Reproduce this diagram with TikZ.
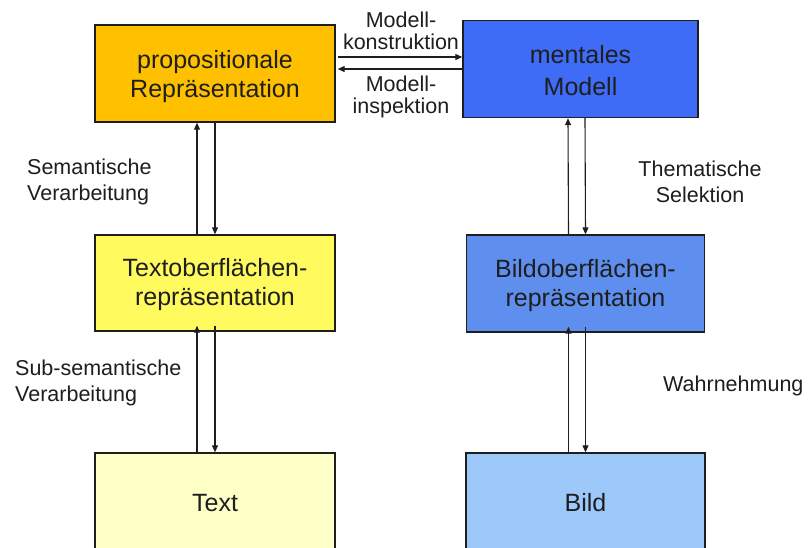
\documentclass[tikz,border=0pt]{standalone}
\usepackage{fontspec}
\setmainfont{Liberation Sans}
\usetikzlibrary{arrows.meta,calc}

\definecolor{propfill}{HTML}{FFC000}
\definecolor{mentalfill}{HTML}{3F6CF6}
\definecolor{txtsurffill}{HTML}{FFFA5E}
\definecolor{imgsurffill}{HTML}{5F8FEE}
\definecolor{txtfill}{HTML}{FFFFC8}
\definecolor{imgfill}{HTML}{9CC8FA}
\definecolor{inkcol}{HTML}{1E1E1E}

\tikzset{
  box/.style={draw=inkcol, line width=1.4pt, inner sep=0pt, align=center,
    text=inkcol, font=\fontsize{25}{29}\selectfont},
  lbl/.style={inner sep=0pt, text=inkcol, font=\fontsize{21.5}{26.5}\selectfont},
  tightlbl/.style={lbl, align=center, font=\fontsize{21.5}{21.5}\selectfont},
  flow/.style={draw=inkcol, line width=1.1pt,
    -{Triangle[length=7pt,width=6pt]}}
}

\begin{document}
\begin{tikzpicture}[x=1pt,y=-1pt]
  \clip (0,0) rectangle (808,547);
  \fill[white] (0,0) rectangle (808,547);

  % boxes
  \node[box, fill=propfill, minimum width=240pt, minimum height=97pt]
    (prop) at (215,73.5) {};
  \node[box, fill=mentalfill, minimum width=235pt, minimum height=97pt]
    (mental) at (580.5,69) {};
  \node[box, fill=txtsurffill, minimum width=240pt, minimum height=96pt]
    (txtsurf) at (215,283) {};
  \node[box, fill=imgsurffill, minimum width=238pt, minimum height=97pt]
    (imgsurf) at (585.5,283.5) {};
  \node[box, fill=txtfill, minimum width=240pt, minimum height=100pt]
    (txt) at (215,503) {};
  \node[box, fill=imgfill, minimum width=239pt, minimum height=100pt]
    (img) at (585.5,503) {};

  % box captions
  \node[box, draw=none] (propt) at ([yshift=-3pt]prop.center) {propositionale\\Repräsentation};
  \node[box, draw=none, font=\fontsize{25}{32}\selectfont] (mentalt) at ([yshift=-2pt]mental.center) {mentales\\Modell};
  \node[box, draw=none] (txtsurft) at ([yshift=-2pt]txtsurf.center) {Textoberflächen-\\repräsentation};
  \node[box, draw=none] (imgsurft) at ([yshift=-2pt]imgsurf.center) {Bildoberflächen-\\repräsentation};
  \node[box, draw=none] (txtt) at (txt.center) {Text};
  \node[box, draw=none] (imgt) at (img.center) {Bild};

  % model construction / inspection
  \coordinate (yc) at (0,57);
  \coordinate (yi) at (0,69);
  \draw[flow] ([xshift=2pt]prop.east |- yc) -- (mental.west |- yc);
  \draw[flow] (mental.west |- yi) -- ([xshift=2pt]prop.east |- yi);

  % text column
  \draw[flow] ([xshift=-18pt]txtsurf.north) -- ([xshift=-18pt]prop.south);
  \draw[flow] (prop.south) -- (txtsurf.north);
  \draw[flow] ([xshift=-18pt]txt.north) -- ([xshift=-18pt,yshift=6pt]txtsurf.south);
  \draw[flow] ([yshift=6pt]txtsurf.south) -- (txt.north);

  % picture column
  \draw[flow] ([xshift=-17pt]imgsurf.north) -- ([xshift=-12.5pt]mental.south);
  \draw[flow] ([xshift=4.5pt]mental.south) -- (imgsurf.north);
  \draw[flow] ([xshift=-17pt]img.north) -- ([xshift=-17pt,yshift=6pt]imgsurf.south);
  \draw[flow] ([yshift=6pt]imgsurf.south) -- (img.north);

  % labels
  \node[tightlbl] (lcon) at (401,31) {Modell-\\konstruktion};
  \node[tightlbl] (lins) at (401,97) {Modell-\\inspektion};
  \node[lbl, align=left, anchor=west] (lsem) at (27,182) {Semantische\\Verarbeitung};
  \node[lbl, align=left, anchor=west] (lsub) at (15,383) {Sub-semantische\\Verarbeitung};
  \node[lbl, align=center] (lthem) at (700,182) {Thematische\\Selektion};
  \node[lbl, anchor=west] (lwahr) at (663,386) {Wahrnehmung};
\end{tikzpicture}
\end{document}
